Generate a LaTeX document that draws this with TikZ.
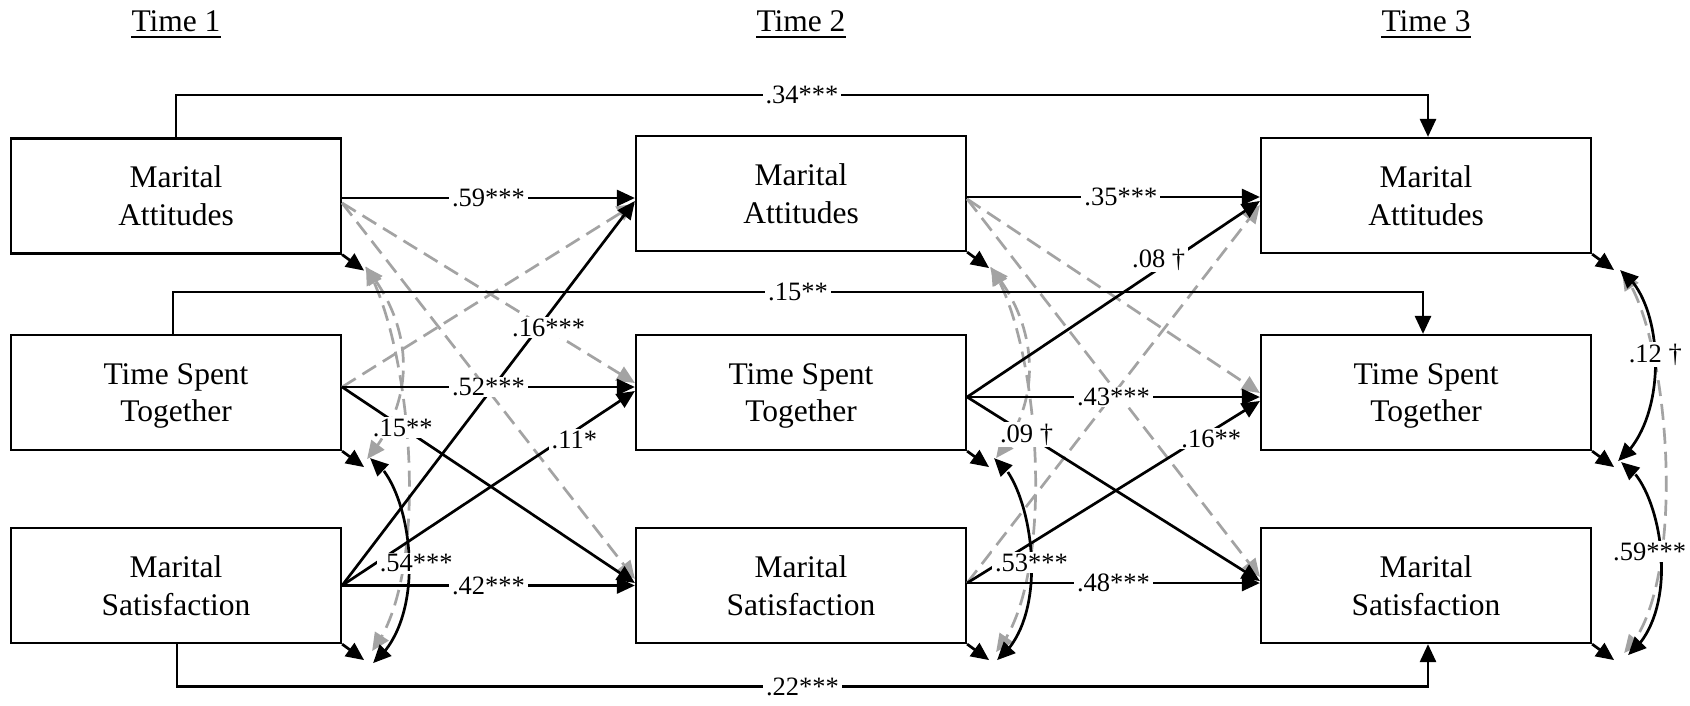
\documentclass[tikz,border=0pt]{standalone}
\usepackage{fontspec}
\setmainfont{Liberation Serif}
\usetikzlibrary{arrows.meta,calc,bending}
\definecolor{grayc}{RGB}{163,163,163}
\tikzset{
  box/.style={draw, line width=2.2pt, minimum width=330pt, minimum height=115pt, inner sep=0pt, align=center, font=\fontsize{31.5}{37.7}\selectfont},
  arr/.style={line width=2.7pt, -{Triangle[length=18pt,width=16pt]}},
  biarr/.style={line width=2.7pt, {Triangle[length=18pt,width=16pt]}-{Triangle[length=18pt,width=16pt]}},
  dsh/.style={line width=2.7pt, draw=grayc, dash pattern=on 16pt off 8pt, -{Triangle[length=18pt,width=16pt]}},
  bidsh/.style={line width=2.7pt, draw=grayc, dash pattern=on 16pt off 8pt, {Triangle[length=18pt,width=16pt]}-{Triangle[length=18pt,width=16pt]}},
  lbl/.style={fill=white, inner xsep=3pt, inner ysep=1.5pt, font=\fontsize{26.5}{30}\selectfont},
  ttl/.style={anchor=base, inner sep=0pt, font=\fontsize{31.5}{36}\selectfont},
}
\begin{document}
\begin{tikzpicture}[x=1pt,y=-1pt]
\useasboundingbox (0,0) rectangle (1690,705);
% titles
\node[ttl] (h1) at (176,31.7) {Time 1};
\node[ttl] (h2) at (801,31.7) {Time 2};
\node[ttl] (h3) at (1426,31.7) {Time 3};
\foreach \h in {h1,h2,h3} \draw[line width=2pt] ([yshift=-5.6pt]\h.base west) -- ([yshift=-5.6pt]\h.base east);
% boxes
\node[box] (A1) at (176,196) {Marital\\Attitudes};
\node[box] (T1) at (176,392.5) {Time Spent\\\smash{Together}};
\node[box] (S1) at (176,585.5) {Marital\\Satisfaction};
\node[box] (A2) at (801,193.5) {Marital\\Attitudes};
\node[box] (T2) at (801,392.5) {Time Spent\\\smash{Together}};
\node[box] (S2) at (801,585.5) {Marital\\Satisfaction};
\node[box] (A3) at (1426,195.5) {Marital\\Attitudes};
\node[box] (T3) at (1426,392.5) {Time Spent\\\smash{Together}};
\node[box] (S3) at (1426,585.5) {Marital\\Satisfaction};
% residual arrows
\foreach \b in {A1,T1,S1,A2,T2,S2,A3,T3,S3}
  \draw[arr] (\b.south east) -- ++(22,16) coordinate (r\b);
% gray dashed paths
\draw[dsh] ([yshift=-7pt]A1.east) -- ([yshift=9.5pt]T2.west);
\draw[dsh] ([yshift=-7pt]A1.east) -- ([yshift=6.5pt]S2.west);
\draw[dsh] ([yshift=5.5pt]T1.east) -- ([yshift=-10.5pt]A2.west);
\draw[dsh] ([yshift=-5.5pt]A2.east) -- ([yshift=-0.5pt]T3.west);
\draw[dsh] ([yshift=-5.5pt]A2.east) -- ([yshift=8.5pt]S3.west);
\draw[dsh] ([yshift=2.5pt]S2.east) -- ([yshift=-9.5pt]A3.west);
% gray dashed correlations
\draw[bidsh] ([shift={(1,-4)}]rA1) .. controls +(44,53) and +(55,-66) .. ([shift={(3,-8)}]rT1);
\draw[bidsh] ([shift={(2,-4)}]rA1) .. controls +(46,79) and +(60,-76) .. ([shift={(8,-9)}]rS1);
\draw[bidsh] ([shift={(1,-1)}]rA2) .. controls +(44,51) and +(52,-63) .. ([shift={(7,-9)}]rT2);
\draw[bidsh] ([shift={(2,-1)}]rA2) .. controls +(49,73) and +(62,-72) .. ([shift={(7,-8)}]rS2);
\draw[bidsh] ([shift={(8,2)}]rA3) .. controls +(48,58) and +(66,-63) .. ([shift={(10,-7)}]rS3);
% black correlations
\draw[biarr] ([shift={(6,-9)}]rT1) .. controls +(40,22) and +(59,-48) .. coordinate[pos=.56] (c54) ([shift={(9,3)}]rS1);
\draw[biarr] ([shift={(5,-9)}]rT2) .. controls +(36,20) and +(58,-45) .. coordinate[pos=.55] (c53) ([shift={(8,0)}]rS2);
\draw[biarr] ([shift={(6,0)}]rA3) .. controls +(45,30) and +(52,-41) .. coordinate[pos=.47] (c12) ([shift={(4,-6)}]rT3);
\draw[biarr] ([shift={(7,-5)}]rT3) .. controls +(39,18) and +(57,-45) .. coordinate[pos=.5] (c59b) ([shift={(14,-5)}]rS3);
% black paths
\draw[arr] (S1.east) -- coordinate[pos=.671] (c16) ([yshift=-7.5pt]A2.west);
\draw[arr] (S1.east) -- coordinate[pos=.749] (c11) ([yshift=1.5pt]T2.west);
\draw[arr] ([yshift=5.5pt]T1.east) -- coordinate[pos=.207] (c15) ([yshift=2.5pt]S2.west);
\draw[arr] ([yshift=-2pt]A1.east) -- coordinate[pos=.5] (c59) ([yshift=-4.5pt]A2.west);
\draw[arr] ([yshift=5.5pt]T1.east) -- coordinate[pos=.5] (c52) ([yshift=5.5pt]T2.west);
\draw[arr] (S1.east) -- coordinate[pos=.5] (c42) (S2.west);
\draw[arr] ([yshift=-4.5pt]T2.east) -- coordinate[pos=.702] (c08) ([yshift=-5.5pt]A3.west);
\draw[arr] ([yshift=-4.5pt]T2.east) -- coordinate[pos=.203] (c09) ([yshift=4.5pt]S3.west);
\draw[arr] ([yshift=2.5pt]S2.east) -- coordinate[pos=.793] (c16b) ([yshift=-8.5pt]T3.west);
\draw[arr] ([yshift=-3.5pt]A2.east) -- coordinate[pos=.525] (c35) ([yshift=-1.5pt]A3.west);
\draw[arr] ([yshift=-4.5pt]T2.east) -- coordinate[pos=.5] (c43) ([yshift=-4.5pt]T3.west);
\draw[arr] ([yshift=2.5pt]S2.east) -- coordinate[pos=.5] (c48) ([yshift=2.5pt]S3.west);
% long stability paths
\draw[arr] (A1.north) -- ++(0,-42.5) -| coordinate[pos=.25] (c34) ([xshift=2pt]A3.north);
\draw[arr] ([xshift=-3pt]T1.north) -- ++(0,-42) -| coordinate[pos=.25] (c15b) ([xshift=-3pt]T3.north);
\draw[arr] ([xshift=1pt]S1.south) -- ++(0,42.5) -| coordinate[pos=.25] (c22) ([xshift=2pt]S3.south);
% labels
\node[lbl] (l34) at (c34) {.34***};
\node[lbl] (l15b) at (c15b) {.15**};
\node[lbl] (l22) at (c22) {.22***};
\node[lbl] (l59) at (c59) {.59***};
\node[lbl] (l52) at (c52) {.52***};
\node[lbl] (l42) at (c42) {.42***};
\node[lbl,xshift=10pt] (l16) at (c16) {.16***};
\node[lbl,xshift=13pt] (l11) at (c11) {.11*};
\node[lbl] (l15) at (c15) {.15**};
\node[lbl] (l35) at (c35) {.35***};
\node[lbl] (l43) at (c43) {.43***};
\node[lbl] (l48) at (c48) {.48***};
\node[lbl,xshift=-14pt] (l08) at (c08) {.08 †};
\node[lbl] (l09) at (c09) {.09 †};
\node[lbl,xshift=12pt] (l16b) at (c16b) {.16**};
\node[lbl,xshift=7pt,yshift=3pt] (l54) at (c54) {.54***};
\node[lbl] (l53) at (c53) {.53***};
\node[lbl] (l12) at (c12) {.12 †};
\node[lbl,xshift=-11pt,yshift=-3pt] (l59b) at (c59b) {.59***};
\end{tikzpicture}
\end{document}
